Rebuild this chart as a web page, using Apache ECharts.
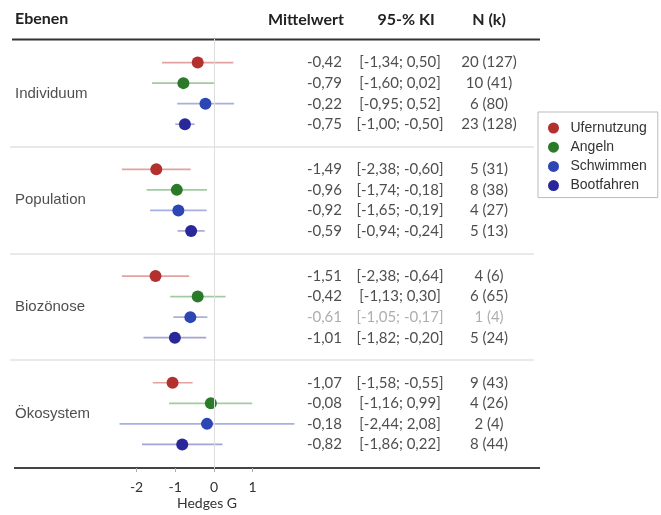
<!DOCTYPE html>
<html><head><meta charset="utf-8">
<script src="https://cdn.jsdelivr.net/npm/echarts@6/dist/echarts.min.js"></script>
<style>html,body{margin:0;padding:0;background:#fff}#c{width:661px;height:515px}</style>
</head><body><div id="c"></div>
<script>
// ---- data ----
const groups = ['Individuum', 'Population', 'Biozönose', 'Ökosystem'];
const activities = ['Ufernutzung', 'Angeln', 'Schwimmen', 'Bootfahren'];

const meanUfernutzung = [-0.42, -1.49, -1.51, -1.07];
const lowUfernutzung  = [-1.34, -2.38, -2.38, -1.58];
const highUfernutzung = [0.50, -0.60, -0.64, -0.55];
const nUfernutzung    = ['20 (127)', '5 (31)', '4 (6)', '9 (43)'];

const meanAngeln = [-0.79, -0.96, -0.42, -0.08];
const lowAngeln  = [-1.60, -1.74, -1.13, -1.16];
const highAngeln = [0.02, -0.18, 0.30, 0.99];
const nAngeln    = ['10 (41)', '8 (38)', '6 (65)', '4 (26)'];

const meanSchwimmen = [-0.22, -0.92, -0.61, -0.18];
const lowSchwimmen  = [-0.95, -1.65, -1.05, -2.44];
const highSchwimmen = [0.52, -0.19, -0.17, 2.08];
const nSchwimmen    = ['6 (80)', '4 (27)', '1 (4)', '2 (4)'];

const meanBootfahren = [-0.75, -0.59, -1.01, -0.82];
const lowBootfahren  = [-1.00, -0.94, -1.82, -1.86];
const highBootfahren = [-0.50, -0.24, -0.20, 0.22];
const nBootfahren    = ['23 (128)', '5 (13)', '5 (24)', '8 (44)'];

const greyedRows = [{ group: 'Biozönose', activity: 'Schwimmen' }];

const tickValues = [-2, -1, 0, 1];
const tickLabels = ['-2', '-1', '0', '1'];

const headerTexts = ['Ebenen', 'Mittelwert', '95-% KI', 'N (k)'];
const axisTitle = 'Hedges G';

// ---- layout ----
const means = [meanUfernutzung, meanAngeln, meanSchwimmen, meanBootfahren];
const lows = [lowUfernutzung, lowAngeln, lowSchwimmen, lowBootfahren];
const highs = [highUfernutzung, highAngeln, highSchwimmen, highBootfahren];
const ns = [nUfernutzung, nAngeln, nSchwimmen, nBootfahren];

const colors = ['#b3302f', '#2a7a2a', '#2c46b3', '#28289a'];
const lineColors = ['#e3a2a2', '#a3cba3', '#a6b0e0', '#a4a4d6'];

const GROUP_STEP = 5.2;
const Y_MIN = -1.15;
const Y_MAX = (groups.length - 1) * GROUP_STEP + (activities.length - 1) + 1.15;
const GRID_TOP = 39, GRID_BOTTOM = 47;
function rowY(g, a) { return g * GROUP_STEP + a; }
function fmt(v) { return v.toFixed(2).replace('.', ','); }
function isGrey(gi, ai) {
  return greyedRows.some(r => r.group === groups[gi] && r.activity === activities[ai]);
}

const series = [];
activities.forEach((act, ai) => {
  series.push({
    type: 'custom', name: act + ' KI', xAxisIndex: 0, yAxisIndex: 0, silent: true,
    data: groups.map((g, gi) => [lows[ai][gi], highs[ai][gi], rowY(gi, ai)]),
    encode: { x: [0, 1], y: 2 },
    renderItem: function (params, api) {
      const p1 = api.coord([api.value(0), api.value(2)]);
      const p2 = api.coord([api.value(1), api.value(2)]);
      return { type: 'line', shape: { x1: p1[0], y1: p1[1], x2: p2[0], y2: p2[1] },
        style: { stroke: lineColors[ai], lineWidth: 1.6 } };
    },
    z: 2
  });
});
activities.forEach((act, ai) => {
  const s = {
    type: 'scatter', name: act, xAxisIndex: 0, yAxisIndex: 0,
    data: groups.map((g, gi) => [means[ai][gi], rowY(gi, ai)]),
    symbolSize: 12, itemStyle: { color: colors[ai], opacity: 1 }, z: 3,
    emphasis: { disabled: true }
  };
  if (ai === 0) {
    s.markLine = {
      silent: true, symbol: ['none', 'none'], label: { show: false },
      lineStyle: { color: '#dedede', width: 1, type: 'solid' },
      data: [{ xAxis: 0 }]
    };
  }
  series.push(s);
});

function textSeries(x, align, getText) {
  const data = [];
  groups.forEach((g, gi) => activities.forEach((a, ai) => {
    data.push({ value: [x, rowY(gi, ai)],
      label: { formatter: getText(ai, gi), color: isGrey(gi, ai) ? '#9a9a9a' : '#222' } });
  }));
  return {
    type: 'scatter', xAxisIndex: 1, yAxisIndex: 1, symbolSize: 0, silent: true, data,
    label: { show: true, position: align === 'right' ? 'left' : (align === 'left' ? 'right' : 'inside'),
      distance: 0, fontFamily: 'Lato', fontSize: 15 },
    emphasis: { disabled: true }
  };
}
series.push(textSeries(342, 'right', (ai, gi) => fmt(means[ai][gi])));
series.push(textSeries(400, 'center', (ai, gi) => '[' + fmt(lows[ai][gi]) + '; ' + fmt(highs[ai][gi]) + ']'));
series.push(textSeries(489, 'center', (ai, gi) => ns[ai][gi]));

// group labels + separators
const sepData = [];
for (let g = 0; g < groups.length - 1; g++) {
  const y = g * GROUP_STEP + (activities.length - 1) + (GROUP_STEP - (activities.length - 1)) / 2;
  sepData.push([{ coord: [10, y] }, { coord: [534, y] }]);
}
series.push({
  type: 'scatter', xAxisIndex: 1, yAxisIndex: 1, symbolSize: 0, silent: true,
  data: groups.map((g, gi) => ({ value: [15, gi * GROUP_STEP + (activities.length - 1) / 2], name: g })),
  label: { show: true, position: 'right', distance: 0, formatter: '{b}',
    fontFamily: 'Liberation Sans', fontSize: 15, color: '#222' },
  emphasis: { disabled: true },
  markLine: { silent: true, symbol: ['none', 'none'], label: { show: false },
    lineStyle: { color: '#e2e2e2', width: 1.5, type: 'solid' }, data: sepData }
});

const chart = echarts.init(document.getElementById('c'), null, { renderer: 'canvas' });
chart.setOption({
  animation: false,
  backgroundColor: '#fff',
  grid: [
    { left: 20.5, width: 280.5, top: GRID_TOP, bottom: GRID_BOTTOM },
    { left: 0, right: 0, top: GRID_TOP, bottom: GRID_BOTTOM }
  ],
  xAxis: [
    { type: 'value', gridIndex: 0, min: -5, max: 2.25, position: 'bottom',
      axisLine: { show: false, onZero: false }, splitLine: { show: false },
      axisTick: { show: true, customValues: tickValues, length: 4, lineStyle: { color: '#aaa' } },
      axisLabel: { customValues: tickValues, margin: 12,
        formatter: v => tickLabels[tickValues.indexOf(v)] ?? '',
        fontFamily: 'Lato', fontSize: 14, color: '#333' } },
    { type: 'value', gridIndex: 1, min: 0, max: 661, show: false }
  ],
  yAxis: [
    { type: 'value', gridIndex: 0, min: Y_MIN, max: Y_MAX, inverse: true, show: false },
    { type: 'value', gridIndex: 1, min: Y_MIN, max: Y_MAX, inverse: true, show: false }
  ],
  legend: {
    data: activities, orient: 'vertical', left: 538, top: 112,
    icon: 'circle', itemWidth: 24, itemHeight: 11, itemGap: 5.2,
    borderColor: '#bbb', borderWidth: 1, padding: [9, 11, 5, 10],
    textStyle: { fontFamily: 'Liberation Sans', fontSize: 14, lineHeight: 14, color: '#333' },
    selectedMode: false
  },
  graphic: [
    { type: 'text', left: 15, top: 11, style: { text: headerTexts[0], font: 'bold 16px Lato', fill: '#222' } },
    { type: 'text', x: 306, y: 20, style: { text: headerTexts[1], font: 'bold 16px Lato', fill: '#222', textAlign: 'center', textVerticalAlign: 'middle' } },
    { type: 'text', x: 406, y: 20, style: { text: headerTexts[2], font: 'bold 16px Lato', fill: '#222', textAlign: 'center', textVerticalAlign: 'middle' } },
    { type: 'text', x: 489, y: 20, style: { text: headerTexts[3], font: 'bold 16px Lato', fill: '#222', textAlign: 'center', textVerticalAlign: 'middle' } },
    { type: 'line', shape: { x1: 12, y1: 39.5, x2: 540, y2: 39.5 }, style: { stroke: '#333', lineWidth: 2 } },
    { type: 'line', shape: { x1: 14, y1: 468, x2: 540, y2: 468 }, style: { stroke: '#444', lineWidth: 2 } },
    { type: 'text', x: 207, y: 503, style: { text: axisTitle, font: '14px Lato', fill: '#333', textAlign: 'center', textVerticalAlign: 'middle' } }
  ],
  series
});
</script></body></html>
